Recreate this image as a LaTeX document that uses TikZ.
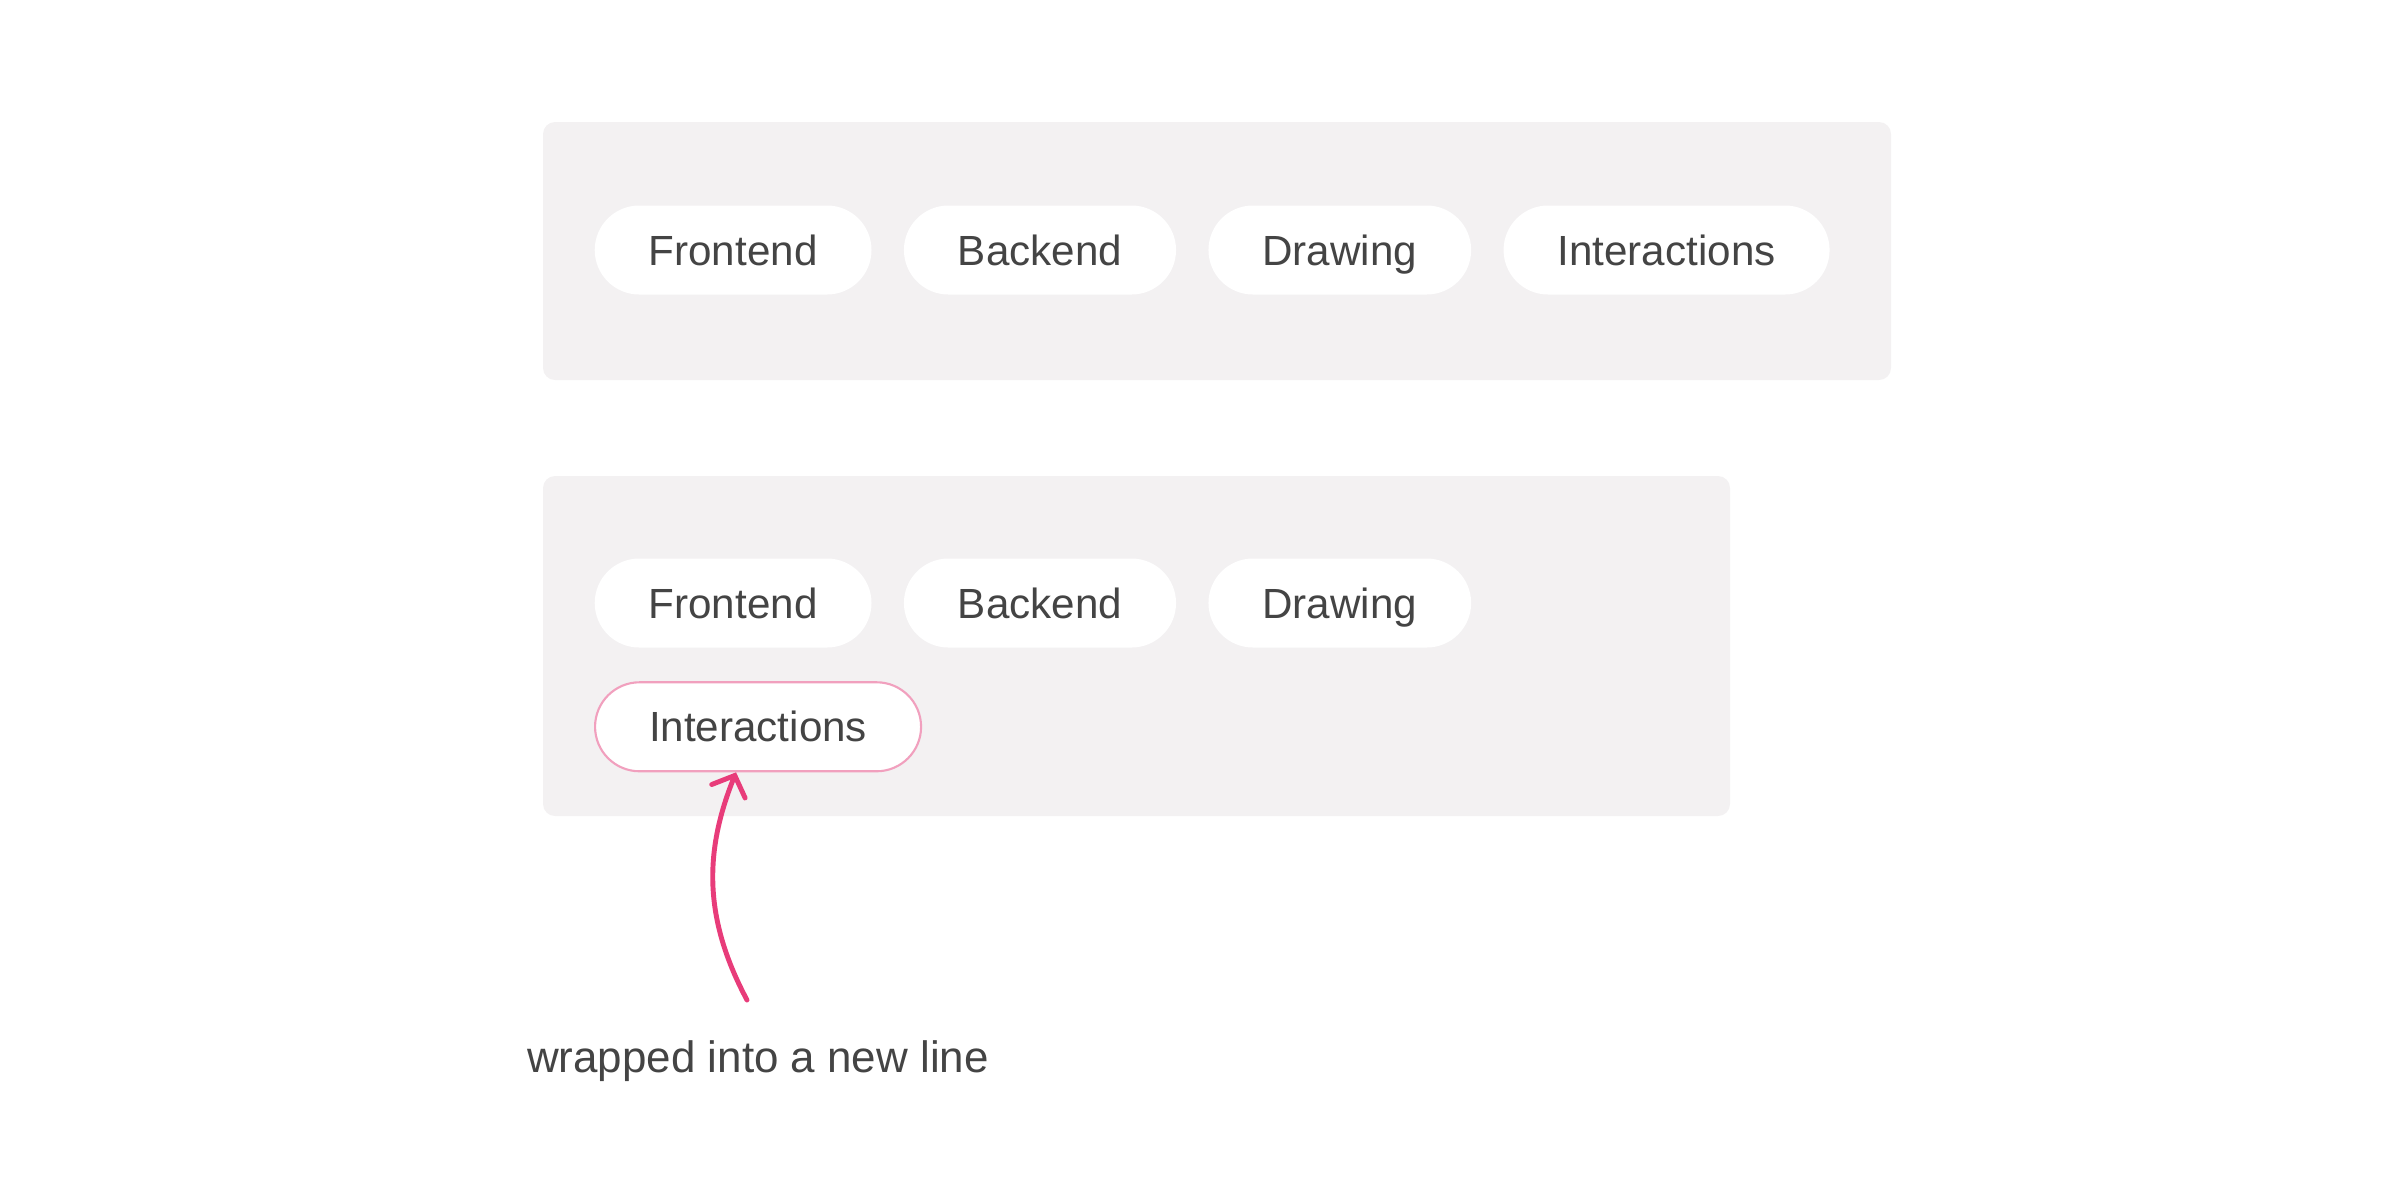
\documentclass[tikz,border=0pt]{standalone}
\usepackage{fontspec}
\setmainfont{Liberation Sans}
\usetikzlibrary{positioning,arrows.meta}

\definecolor{panelgray}{RGB}{243,241,242}
\definecolor{textgray}{RGB}{68,68,68}
\definecolor{arrowpink}{RGB}{232,60,122}
\definecolor{borderpink}{RGB}{241,160,190}

\tikzset{
  panel/.style={fill=panelgray, rounded corners=0.12cm},
  pill/.style={fill=white, rounded corners=0.445cm, minimum height=0.89cm,
    inner xsep=0.54cm, text height=8.6pt, text depth=0pt,
    text=textgray, font=\fontsize{12pt}{14pt}\selectfont},
  wrapped/.style={pill, draw=borderpink, line width=0.6pt},
  pinkarrow/.style={draw=arrowpink, line width=1.4pt, line cap=round,
    -{Straight Barb[length=0.17cm, width=0.36cm, line cap=round]}},
}

\begin{document}
\begin{tikzpicture}

\useasboundingbox (0,0) rectangle (24,-12);

% Panneaux gris
\fill[panel] (5.43,-1.22) rectangle (18.91,-3.80);
\fill[panel] (5.43,-4.76) rectangle (17.30,-8.16);

% Ligne du haut
\node[pill, anchor=west] (front1) at (5.94,-2.50) {Frontend};
\node[pill, right=0.31cm of front1] (back1) {Backend};
\node[pill, right=0.31cm of back1] (draw1) {Drawing};
\node[pill, right=0.31cm of draw1] (inter1) {Interactions};

% Ligne du bas
\node[pill, anchor=west] (front2) at (5.94,-6.03) {Frontend};
\node[pill, right=0.31cm of front2] (back2) {Backend};
\node[pill, right=0.31cm of back2] (draw2) {Drawing};
\node[wrapped, anchor=north west] (inter2) at ([yshift=-0.33cm]front2.south west) {Interactions};

% Fleche et legende
\coordinate (tail) at (7.47,-10.00);
\node[anchor=base, text=textgray, font=\fontsize{12.5pt}{15pt}\selectfont] (note) at (7.58,-10.72) {wrapped into a new line};
\draw[pinkarrow] (tail) to[out=118, in=-112] ([xshift=-0.22cm]inter2.south);

\end{tikzpicture}
\end{document}
